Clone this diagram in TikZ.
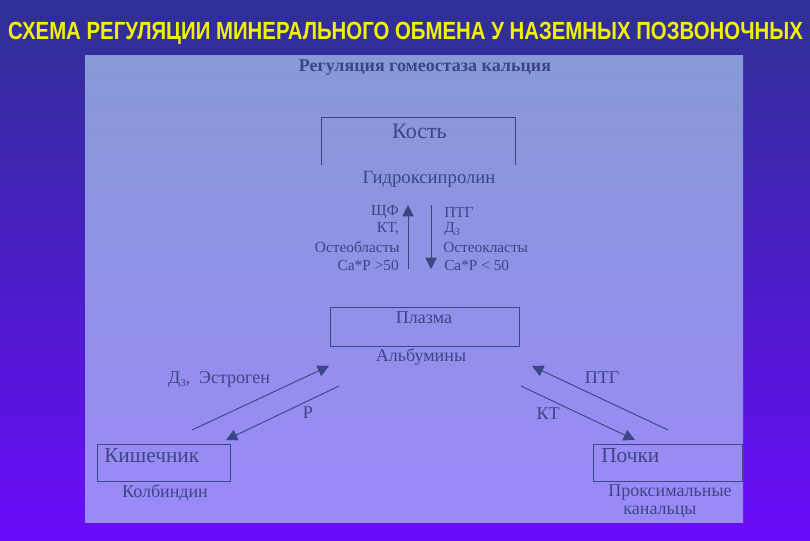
\documentclass[tikz,border=0pt]{standalone}
\usepackage{fontspec}
\setmainfont{Liberation Serif}
\newfontfamily\titlefont{Liberation Sans}
\usetikzlibrary{arrows.meta}
\definecolor{bgtop}{HTML}{2E3094}
\definecolor{bgbot}{HTML}{6A0CFA}
\definecolor{pantop}{HTML}{8799D6}
\definecolor{panbot}{HTML}{9B89F9}
\definecolor{ink}{HTML}{3B4684}
\definecolor{titleyellow}{HTML}{F2F200}
\begin{document}
\begin{tikzpicture}[x=0.75pt,y=-0.75pt,
  lbl/.style={text=ink,font=\fontsize{11.5}{13}\selectfont,inner sep=0pt},
  mid/.style={text=ink,font=\fontsize{13.5}{15}\selectfont,inner sep=0pt},
  big/.style={text=ink,font=\fontsize{16}{18}\selectfont,inner sep=0pt},
  boxline/.style={draw=ink,line width=0.7pt},
  arr/.style={draw=ink,line width=0.7pt,-{Triangle[length=8.5pt,width=8.5pt]}}]
\useasboundingbox (0,0) rectangle (810,540);
\shade[top color=bgtop,bottom color=bgbot] (0,0) rectangle (810,540);
\shade[top color=pantop,bottom color=panbot] (85,55) rectangle (743,522);

\node[text=titleyellow,font=\titlefont\bfseries,inner sep=0pt] (title) at (405.5,33)
  {\resizebox{596pt}{13pt}{СХЕМА РЕГУЛЯЦИИ МИНЕРАЛЬНОГО ОБМЕНА У НАЗЕМНЫХ ПОЗВОНОЧНЫХ}};

\node[text=ink,font=\fontsize{13.5}{15}\selectfont\bfseries,inner sep=0pt] (head) at (425,68) {Регуляция гомеостаза кальция};

% Bone
\coordinate (k1) at (321,165);
\coordinate (k2) at (321,117);
\coordinate (k3) at (515,117);
\coordinate (k4) at (515,165);
\draw[boxline] (k1) -- (k2) -- (k3) -- (k4);
\node[big,font=\fontsize{16.5}{18}\selectfont] (kost) at (419.5,131) {Кость};
\node[mid,font=\fontsize{14}{16}\selectfont] (gidr) at (429,179) {Гидроксипролин};

% vertical arrows
\coordinate (ub) at (408,269);
\coordinate (ut) at (408,205);
\coordinate (dt) at (431,205);
\coordinate (db) at (431,269);
\draw[arr] (ub) -- (ut);
\draw[arr] (dt) -- (db);

\node[lbl,anchor=east] (l1) at (399,212) {ЩФ};
\node[lbl,anchor=east] (l2) at (399,229) {КТ,};
\node[lbl,anchor=east] (l3) at (400,247) {Остеобласты};
\node[lbl,anchor=east] (l4) at (399,265) {Ca*P >50};
\node[lbl,anchor=west] (r1) at (444,212) {ПТГ};
\node[lbl,anchor=west] (r2) at (444,229) {Д\raisebox{-0.4ex}{\footnotesize 3}};
\node[lbl,anchor=west] (r3) at (443,247) {Остеокласты};
\node[lbl,anchor=west] (r4) at (444,265) {Ca*P < 50};

% plasma
\coordinate (p1) at (330,307);
\coordinate (p2) at (519,346);
\draw[boxline] (p1) rectangle (p2);
\node[mid] (plazma) at (424,318) {Плазма};
\node[mid] (alb) at (421,357) {Альбумины};

% left arrows
\coordinate (a1s) at (192,430);
\coordinate (a1e) at (329,366);
\coordinate (a2s) at (339,386);
\coordinate (a2e) at (226,440);
\draw[arr] (a1s) -- (a1e);
\draw[arr] (a2s) -- (a2e);
\node[mid] (d3) at (219,379) {Д\raisebox{-0.4ex}{\footnotesize 3},\ \ Эстроген};
\node[mid] (p) at (308,413) {Р};

% right arrows
\coordinate (b1s) at (668,430);
\coordinate (b1e) at (532,366);
\coordinate (b2s) at (521,386);
\coordinate (b2e) at (635,440);
\draw[arr] (b1s) -- (b1e);
\draw[arr] (b2s) -- (b2e);
\node[mid] (ptg) at (602,378) {ПТГ};
\node[mid] (kt) at (548,414) {КТ};

% intestine
\coordinate (i1) at (97,444);
\coordinate (i2) at (230,481);
\draw[boxline] (i1) rectangle (i2);
\node[big,anchor=west] (kish) at (104,456) {Кишечник};
\node[mid] (kolb) at (165,493) {Колбиндин};

% kidney
\coordinate (n1) at (593,444);
\coordinate (n2) at (742,481);
\draw[boxline] (n1) rectangle (n2);
\node[big,anchor=west] (pochki) at (601,456) {Почки};
\node[mid] (prox) at (670,493) {Проксимальные};
\node[mid] (kan) at (660,512) {канальцы};
\end{tikzpicture}
\end{document}
